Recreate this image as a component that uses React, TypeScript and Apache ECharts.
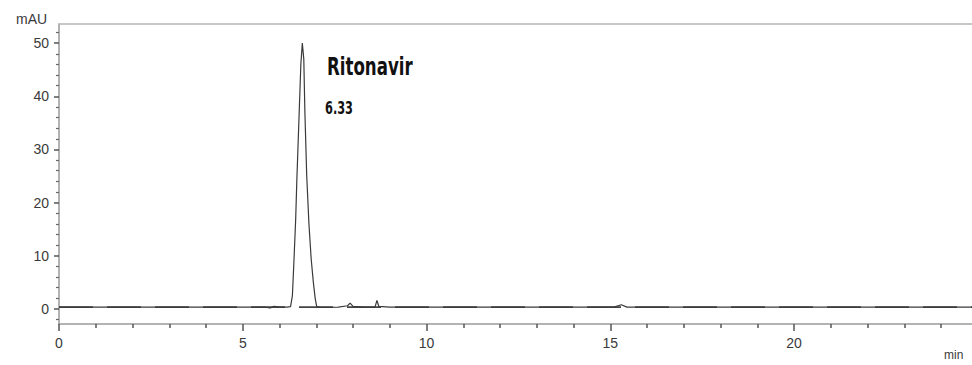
import React, { useEffect, useRef } from "react";
import * as echarts from "echarts";

// Chromatogram trace: [time (min), absorbance (mAU)]
const traceTime = [0, 5.6, 5.75, 5.85, 6.0, 6.2, 6.3, 6.35, 6.39, 6.44, 6.47, 6.53, 6.58, 6.62, 6.66, 6.69, 6.74, 6.8, 6.86, 6.92, 6.97, 7.01, 7.1, 7.6, 7.85, 7.92, 8.0, 8.3, 8.6, 8.65, 8.7, 9.0, 15.1, 15.3, 15.45, 24.84];
const traceValue = [0.35, 0.35, 0.2, 0.5, 0.35, 0.35, 0.45, 2.5, 8.7, 17, 24, 36, 46, 50, 47, 37, 25, 16, 9.5, 5, 2, 0.5, 0.3, 0.35, 0.6, 1.1, 0.5, 0.35, 0.4, 1.6, 0.5, 0.35, 0.35, 0.8, 0.35, 0.35];
const baselineTime = [0, 24.84];
const baselineValue = [0.35, 0.35];

const xMajorTicks = [0, 5, 10, 15, 20];
const xMinorTicks = [1, 2, 3, 4, 6, 7, 8, 9, 11, 12, 13, 14, 16, 17, 18, 19, 21, 22, 23, 24];
const yMajorTicks = [0, 10, 20, 30, 40, 50];
const yMinorTicks = [-2, 2, 4, 6, 8, 12, 14, 16, 18, 22, 24, 26, 28, 32, 34, 36, 38, 42, 44, 46, 48, 52];

const peakName = "Ritonavir";
const peakTimeLabel = "6.33";

const X_MIN = 0;
const X_MAX = 24.84;
const Y_MIN = -2.83;
const Y_MAX = 53.6;

export default function App() {
  const ref = useRef<HTMLDivElement>(null);

  useEffect(() => {
    document.body.style.margin = "0";
    document.body.style.overflow = "hidden";
    const chart = echarts.init(ref.current!, null, { renderer: "svg" });
    const axisColor = "#9a9a9a";
    const labelStyle = {
      color: "#3a3a3a",
      fontFamily: "Liberation Sans, Arial, sans-serif",
      fontSize: 14,
    };
    const trace = traceTime.map((t, i) => [t, traceValue[i]]);
    const baseline = baselineTime.map((t, i) => [t, baselineValue[i]]);

    chart.setOption({
      animation: false,
      backgroundColor: "#ffffff",
      grid: { left: 59, right: 0, top: 24, bottom: 41, containLabel: false },
      xAxis: [
        {
          type: "value",
          position: "bottom",
          min: X_MIN,
          max: X_MAX,
          axisLine: { show: true, onZero: false, lineStyle: { color: axisColor, width: 1.5 } },
          axisTick: { show: true, customValues: xMajorTicks, length: 7, lineStyle: { color: "#555", width: 1.5 } },
          axisLabel: { ...labelStyle, customValues: xMajorTicks, margin: 12 },
          splitLine: { show: false },
        },
        {
          type: "value",
          position: "bottom",
          min: X_MIN,
          max: X_MAX,
          axisLine: { show: false, onZero: false },
          axisTick: { show: true, customValues: xMinorTicks, length: 4, lineStyle: { color: "#555", width: 1.5 } },
          axisLabel: { show: false },
          splitLine: { show: false },
        },
        {
          type: "value",
          position: "top",
          min: X_MIN,
          max: X_MAX,
          axisLine: { show: true, onZero: false, lineStyle: { color: "#b5b5b5", width: 1.5 } },
          axisTick: { show: false },
          axisLabel: { show: false },
          splitLine: { show: false },
        },
      ],
      yAxis: [
        {
          type: "value",
          position: "left",
          min: Y_MIN,
          max: Y_MAX,
          axisLine: { show: true, onZero: false, lineStyle: { color: axisColor, width: 1.5 } },
          axisTick: { show: true, customValues: yMajorTicks, length: 5, lineStyle: { color: "#555", width: 1.5 } },
          axisLabel: { ...labelStyle, customValues: yMajorTicks, margin: 10 },
          splitLine: { show: false },
        },
        {
          type: "value",
          position: "left",
          min: Y_MIN,
          max: Y_MAX,
          axisLine: { show: false, onZero: false },
          axisTick: { show: true, customValues: yMinorTicks, length: 3, lineStyle: { color: "#666", width: 1.2 } },
          axisLabel: { show: false },
          splitLine: { show: false },
        },
      ],
      series: [
        {
          type: "line",
          xAxisIndex: 0,
          yAxisIndex: 0,
          data: baseline,
          showSymbol: false,
          silent: true,
          lineStyle: { color: "#444", width: 1.6, type: [34, 14] },
          z: 1,
        },
        {
          type: "line",
          xAxisIndex: 0,
          yAxisIndex: 0,
          data: trace,
          showSymbol: false,
          smooth: false,
          lineStyle: { color: "#3a3a3a", width: 1.2 },
          z: 2,
        },
      ],
      graphic: [
        {
          type: "text",
          x: 16,
          y: 12,
          style: { text: "mAU", fill: "#3a3a3a", font: "14px 'Liberation Sans', Arial, sans-serif" },
        },
        {
          type: "text",
          x: 944,
          y: 349,
          style: { text: "min", fill: "#3a3a3a", font: "12px 'Liberation Sans', Arial, sans-serif" },
        },
        {
          type: "text",
          x: 327,
          y: 55,
          scaleX: 0.77,
          style: { text: peakName, fill: "#111", font: "bold 24px 'DejaVu Sans Condensed', 'DejaVu Sans', sans-serif" },
        },
        {
          type: "text",
          x: 325,
          y: 99,
          scaleX: 0.7,
          style: { text: peakTimeLabel, fill: "#111", font: "bold 18px 'DejaVu Sans Condensed', 'DejaVu Sans', sans-serif" },
        },
      ],
    });
    return () => chart.dispose();
  }, []);

  return <div ref={ref} style={{ width: 972, height: 365, position: "absolute", left: 0, top: 0 }} />;
}
